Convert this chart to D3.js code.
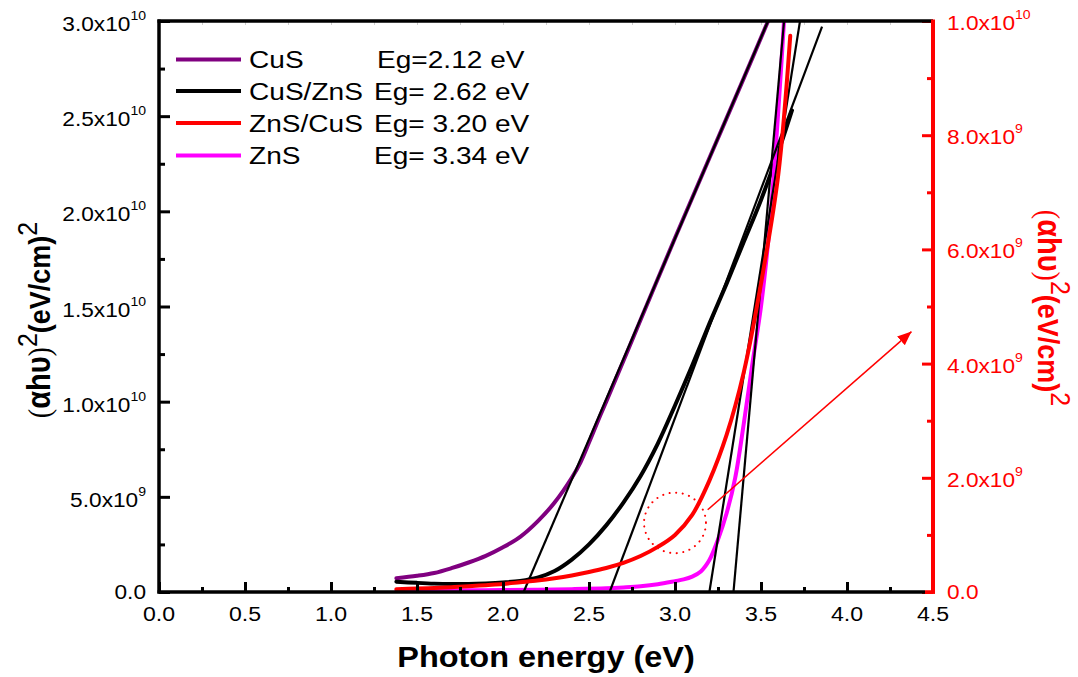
<!DOCTYPE html>
<html><head><meta charset="utf-8">
<script src="https://cdn.jsdelivr.net/npm/d3@7/dist/d3.min.js"></script>
<style>
body{margin:0;background:#fff}
svg{display:block}
text{font-family:"Liberation Sans",Arial,Helvetica,sans-serif}
</style>
</head><body>
<svg id="chart" width="1078" height="677"></svg>
<script>
// ---------------- DATA ----------------
const xTickValues = [0, 0.5, 1.0, 1.5, 2.0, 2.5, 3.0, 3.5, 4.0, 4.5];
const xTickLabels = ["0.0","0.5","1.0","1.5","2.0","2.5","3.0","3.5","4.0","4.5"];
const xMinorTicks = [0.25, 0.75, 1.25, 1.75, 2.25, 2.75, 3.25, 3.75, 4.25];

const leftTickValues = [0, 5e9, 1e10, 1.5e10, 2e10, 2.5e10, 3e10];
const leftTickLabels = ["0.0","5.0x10^9","1.0x10^10","1.5x10^10","2.0x10^10","2.5x10^10","3.0x10^10"];
const leftMinorTicks = [2.5e9, 7.5e9, 1.25e10, 1.75e10, 2.25e10, 2.75e10];

const rightTickValues = [0, 2e9, 4e9, 6e9, 8e9, 1e10];
const rightTickLabels = ["0.0","2.0x10^9","4.0x10^9","6.0x10^9","8.0x10^9","1.0x10^10"];
const rightMinorTicks = [1e9, 3e9, 5e9, 7e9, 9e9];

const seriesNames = ["CuS", "CuS/ZnS", "ZnS/CuS", "ZnS"];
const seriesGapLabels = ["Eg=2.12 eV", "Eg= 2.62 eV", "Eg= 3.20 eV", "Eg= 3.34 eV"];
const seriesAxis = ["left", "left", "right", "right"];

// CuS (left axis)
const energyCuS = [1.38,1.5,1.6,1.7,1.8,1.9,2.0,2.1,2.2,2.3,2.4,2.45,2.5,2.55,2.6,2.8,3.0,3.2,3.4,3.56];
const valuesCuS = [7.2e8,8.5e8,1.0e9,1.25e9,1.55e9,1.9e9,2.35e9,2.9e9,3.7e9,4.7e9,6.0e9,6.8e9,7.85e9,8.95e9,1.0e10,1.43e10,1.86e10,2.28e10,2.70e10,3.04e10];

// CuS/ZnS (left axis)
const energyCuSZnS = [1.38,1.5,1.6,1.7,1.8,1.9,2.0,2.1,2.2,2.3,2.4,2.5,2.6,2.7,2.8,2.9,3.0,3.1,3.2,3.3,3.4,3.5,3.6,3.68];
const valuesCuSZnS = [5.4e8,4.8e8,4.4e8,4.2e8,4.2e8,4.5e8,5.0e8,5.8e8,7.5e8,1.1e9,1.7e9,2.5e9,3.5e9,4.7e9,6.1e9,7.8e9,9.8e9,1.19e10,1.41e10,1.62e10,1.84e10,2.06e10,2.31e10,2.53e10];

// ZnS/CuS (right axis)
const energyZnSCuS = [1.38,1.5,1.6,1.7,1.8,1.9,2.0,2.1,2.2,2.3,2.4,2.5,2.6,2.7,2.8,2.9,3.0,3.1,3.2,3.3,3.4,3.5,3.6,3.67];
const valuesZnSCuS = [5.0e7,6.0e7,7.0e7,8.5e7,1.0e8,1.2e8,1.4e8,1.7e8,2.0e8,2.4e8,2.9e8,3.5e8,4.2e8,5.1e8,6.3e8,7.9e8,1.0e9,1.35e9,1.95e9,2.75e9,3.85e9,5.4e9,7.3e9,9.74e9];

// ZnS (right axis)
const energyZnS = [1.38,1.6,1.8,2.0,2.2,2.4,2.6,2.7,2.8,2.9,3.0,3.05,3.1,3.15,3.2,3.25,3.3,3.35,3.4,3.45,3.5,3.55,3.6,3.64];
const valuesZnS = [2.0e7,2.5e7,3.0e7,3.5e7,4.0e7,5.0e7,6.5e7,8.0e7,1.0e8,1.35e8,1.9e8,2.2e8,2.7e8,3.6e8,5.6e8,9.2e8,1.38e9,2.0e9,2.95e9,4.0e9,5.0e9,6.4e9,8.4e9,1.03e10];

// Tangent (Tauc) fit lines
const fitStartEnergy = [2.12, 2.62, 3.20, 3.34];
const fitEndEnergy   = [3.56, 3.855, 3.74, 3.65];
const fitEndValue    = [3.04e10, 2.97e10, 1.025e10, 1.054e10];
const fitAxis        = ["left", "left", "right", "right"];

// Annotation (right-axis data coords)
const circleCenter = [3.0, 1.21e9];
const circleRadius = [0.18, 0.53e9];
const arrowFrom = [3.19, 1.44e9];
const arrowTo   = [4.375, 4.56e9];

// ---------------- DRAW ----------------
const svg = d3.select("#chart");
const x = d3.scaleLinear().domain([0, 4.5]).range([159, 933]);
const yL = d3.scaleLinear().domain([0, 3e10]).range([592, 21]);
const yR = d3.scaleLinear().domain([0, 1e10]).range([592, 21]);
const yOf = a => a === "left" ? yL : yR;

const colors = {"CuS":"#800080","CuS/ZnS":"#000000","ZnS/CuS":"#ff0000","ZnS":"#ff00ff"};

const defs = svg.append("defs");
defs.append("clipPath").attr("id","plot")
  .append("rect").attr("x",159).attr("y",21).attr("width",774).attr("height",571);

const plot = svg.append("g").attr("clip-path","url(#plot)");

function curve(ex, vals, axis, color, w) {
  const ys = yOf(axis);
  const line = d3.line().x(d => x(d[0])).y(d => ys(d[1])).curve(d3.curveCatmullRom.alpha(0.5));
  plot.append("path").datum(ex.map((e,i)=>[e, vals[i]]))
    .attr("d", line).attr("fill","none").attr("stroke",color)
    .attr("stroke-width",w).attr("stroke-linejoin","round").attr("stroke-linecap","round");
}

curve(energyCuS, valuesCuS, "left", colors["CuS"], 4);
curve(energyCuSZnS, valuesCuSZnS, "left", colors["CuS/ZnS"], 4);
curve(energyZnS, valuesZnS, "right", colors["ZnS"], 4);

fitStartEnergy.forEach((e0,i)=>{
  const ys = yOf(fitAxis[i]);
  plot.append("line")
    .attr("x1", x(e0)).attr("y1", ys(0))
    .attr("x2", x(fitEndEnergy[i])).attr("y2", ys(fitEndValue[i]))
    .attr("stroke","#000").attr("stroke-width",2.2);
});

curve(energyZnSCuS, valuesZnSCuS, "right", colors["ZnS/CuS"], 4);

// dotted circle
plot.append("ellipse")
  .attr("cx", x(circleCenter[0])).attr("cy", yR(circleCenter[1]))
  .attr("rx", x(circleCenter[0]+circleRadius[0]) - x(circleCenter[0]))
  .attr("ry", yR(circleCenter[1]) - yR(circleCenter[1]+circleRadius[1]))
  .attr("fill","none").attr("stroke","#ff0000").attr("stroke-width",2)
  .attr("stroke-dasharray","0.1,6.5").attr("stroke-linecap","round");

// arrow
defs.append("marker").attr("id","ah")
  .attr("viewBox","0 0 10 10").attr("refX",10).attr("refY",5)
  .attr("markerWidth",14).attr("markerHeight",14).attr("markerUnits","userSpaceOnUse")
  .attr("orient","auto")
  .append("path").attr("d","M0,0.8 L10,5 L0,9.2 Z").attr("fill","#ff0000");
svg.append("line")
  .attr("x1",x(arrowFrom[0])).attr("y1",yR(arrowFrom[1]))
  .attr("x2",x(arrowTo[0])).attr("y2",yR(arrowTo[1]))
  .attr("stroke","#ff0000").attr("stroke-width",1.5).attr("marker-end","url(#ah)");

// ---- axes ----
function styleAxis(g, color, w) {
  g.select(".domain").remove();
  g.selectAll(".tick line").attr("stroke", color).attr("stroke-width", w);
  g.selectAll(".tick text").remove();
}

// bottom
const gB = svg.append("g").attr("transform","translate(0,592)");
gB.append("g").call(d3.axisBottom(x).tickValues(xTickValues).tickSizeInner(-10).tickSizeOuter(0).tickFormat(""))
  .call(g=>styleAxis(g,"#000",3));
gB.append("g").call(d3.axisBottom(x).tickValues(xMinorTicks).tickSizeInner(-5).tickSizeOuter(0).tickFormat(""))
  .call(g=>styleAxis(g,"#000",3));
// top faint ticks
const gT = svg.append("g").attr("transform","translate(0,21)");
gT.append("g").call(d3.axisTop(x).tickValues(xMinorTicks.concat(xTickValues.slice(1,-1))).tickSizeInner(-4).tickSizeOuter(0).tickFormat(""))
  .call(g=>styleAxis(g,"#d0d0d0",1));

// left
const gL = svg.append("g").attr("transform","translate(159,0)");
gL.append("g").call(d3.axisLeft(yL).tickValues(leftTickValues).tickSizeInner(-11).tickSizeOuter(0).tickFormat(""))
  .call(g=>styleAxis(g,"#000",3));
gL.append("g").call(d3.axisLeft(yL).tickValues(leftMinorTicks).tickSizeInner(-6).tickSizeOuter(0).tickFormat(""))
  .call(g=>styleAxis(g,"#000",3));

// right
const gR = svg.append("g").attr("transform","translate(933,0)");
gR.append("g").call(d3.axisRight(yR).tickValues(rightTickValues).tickSizeInner(-11).tickSizeOuter(0).tickFormat(""))
  .call(g=>styleAxis(g,"#ff0000",3));
gR.append("g").call(d3.axisRight(yR).tickValues(rightMinorTicks).tickSizeInner(-6).tickSizeOuter(0).tickFormat(""))
  .call(g=>styleAxis(g,"#ff0000",3));

// frame lines
svg.append("line").attr("x1",157.5).attr("x2",933).attr("y1",21).attr("y2",21).attr("stroke","#000").attr("stroke-width",3.5);
svg.append("line").attr("x1",157.5).attr("x2",925).attr("y1",592).attr("y2",592).attr("stroke","#000").attr("stroke-width",3.5);
svg.append("line").attr("x1",925).attr("x2",935).attr("y1",592).attr("y2",592).attr("stroke","#ff0000").attr("stroke-width",3.5);
svg.append("line").attr("x1",159).attr("x2",159).attr("y1",19.5).attr("y2",593.5).attr("stroke","#000").attr("stroke-width",3.5);
svg.append("line").attr("x1",933).attr("x2",933).attr("y1",19.5).attr("y2",593.8).attr("stroke","#ff0000").attr("stroke-width",4);

// tick labels
function supLabel(parent, str, tx, ty, anchor, color, sx) {
  const parts = str.split("^");
  const t = parent.append("text")
    .attr("transform", `translate(${tx},${ty}) scale(${sx},1)`)
    .attr("text-anchor", anchor).attr("fill", color).attr("font-size", 21);
  t.append("tspan").text(parts[0]);
  if (parts[1]) t.append("tspan").attr("dy",-11).attr("font-size",13).text(parts[1]);
  return t;
}
leftTickValues.forEach((v,i)=>{
  const lab = leftTickLabels[i];
  supLabel(svg, lab, 146, yL(v) + (lab.includes("^") ? 10 : 7), "end", "#000", 1.08);
});
rightTickValues.forEach((v,i)=>{
  const lab = rightTickLabels[i];
  supLabel(svg, lab, 947, yR(v) + (lab.includes("^") ? 9 : 7), "start", "#ff0000", 1.08);
});
xTickValues.forEach((v,i)=>{
  svg.append("text").attr("transform",`translate(${x(v)},621) scale(1.1,1)`)
    .attr("text-anchor","middle").attr("font-size",21).text(xTickLabels[i]);
});

// axis titles
svg.append("text").attr("transform","translate(546,667) scale(1.12,1)")
  .attr("text-anchor","middle").attr("font-size",29).attr("font-weight","bold")
  .text("Photon energy (eV)");

function yTitle(tx, ty, rot, color) {
  const t = svg.append("text")
    .attr("transform", `translate(${tx},${ty}) rotate(${rot}) scale(1,1.12)`)
    .attr("text-anchor","middle").attr("fill", color);
  t.append("tspan").attr("font-family","'Liberation Serif',serif").attr("font-size",28).text("(");
  t.append("tspan").attr("font-weight","bold").attr("font-size",29).text("αhυ");
  t.append("tspan").attr("font-family","'Liberation Serif',serif").attr("font-size",28).text(")");
  t.append("tspan").attr("font-size",25).attr("dy",-12).text("2");
  t.append("tspan").attr("font-size",27).attr("font-weight","bold").attr("dy",12).text("(eV/cm)");
  t.append("tspan").attr("font-size",25).attr("dy",-12).text("2");
}
yTitle(50, 320, -90, "#000");
yTitle(1038, 308, 90, "#ff0000");

// legend
const legRowY = [59.5, 91, 123, 155.5];
seriesNames.forEach((n,i)=>{
  svg.append("line").attr("x1",176).attr("x2",241).attr("y1",legRowY[i]).attr("y2",legRowY[i])
    .attr("stroke",colors[n]).attr("stroke-width",4);
  svg.append("text").attr("transform",`translate(249,${legRowY[i]+8.5}) scale(1.17,1)`)
    .attr("font-size",24).text(n);
  svg.append("text").attr("transform",`translate(${i===0?377:374},${legRowY[i]+8.5}) scale(1.17,1)`)
    .attr("font-size",24).text(seriesGapLabels[i]);
});
</script>
</body></html>
